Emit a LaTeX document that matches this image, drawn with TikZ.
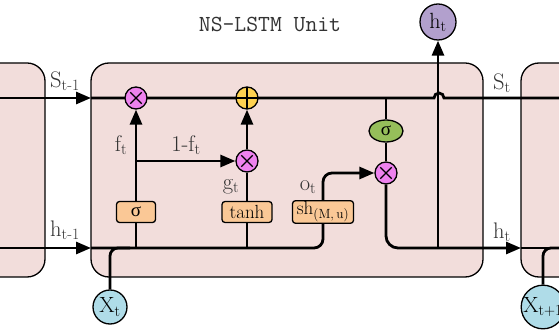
\documentclass[tikz,border=0pt]{standalone}
\usepackage{fontspec}
\newfontfamily\greekfont{Liberation Serif}
\usepackage{tikz}
\usetikzlibrary{positioning,arrows.meta,shapes.geometric}
\definecolor{CellPink}{RGB}{242,221,219}
\definecolor{GateOrange}{RGB}{250,200,150}
\definecolor{MulViolet}{RGB}{238,130,238}
\definecolor{AddYellow}{RGB}{255,210,80}
\definecolor{SigGreen}{RGB}{150,190,90}
\definecolor{OutPurple}{RGB}{178,160,205}
\definecolor{InBlue}{RGB}{175,220,232}
\definecolor{Ink}{RGB}{50,50,50}
\pgfdeclarelayer{background}
\pgfsetlayers{background,main}

\begin{document}
\begin{tikzpicture}[x=1pt,y=1pt,
    cell/.style={draw,fill=CellPink,line width=1.3pt,rounded corners=18pt},
    gate/.style={rectangle,draw,fill=GateOrange,line width=1.3pt,rounded corners=3pt,minimum height=21pt,inner sep=1pt,font=\fontsize{19}{20}\selectfont},
    mul/.style={circle,draw,fill=MulViolet,line width=1.3pt,minimum size=22pt,inner sep=0pt,
        path picture={\draw[line width=1.3pt] ([shift={(45:8pt)}]path picture bounding box.center) -- ([shift={(225:8pt)}]path picture bounding box.center);
                      \draw[line width=1.3pt] ([shift={(135:8pt)}]path picture bounding box.center) -- ([shift={(315:8pt)}]path picture bounding box.center);}},
    add/.style={circle,draw,fill=AddYellow,line width=1.3pt,minimum size=22pt,inner sep=0pt,
        path picture={\draw[line width=1.3pt] ([shift={(0:11pt)}]path picture bounding box.center) -- ([shift={(180:11pt)}]path picture bounding box.center);
                      \draw[line width=1.3pt] ([shift={(90:11pt)}]path picture bounding box.center) -- ([shift={(270:11pt)}]path picture bounding box.center);}},
    terminal/.style={circle,draw,line width=1.3pt,inner sep=0pt,font=\fontsize{22}{24}\selectfont},
    flow/.style={line width=2.8pt},
    arrow/.style={flow,-{Triangle[length=15pt,width=12pt]}},
    lbl/.style={font=\fontsize{22.5}{24}\selectfont,text=Ink}
]
\useasboundingbox (0,0) rectangle (559,329);
\clip (0,0) rectangle (559,329);

% Title
\node[font=\ttfamily\fontsize{23}{24}\selectfont,text=Ink] (title) at (270,305) {NS-LSTM Unit};

% Lane coordinates
\coordinate (sleft) at (0,231);
\coordinate (sin) at (91,231);
\coordinate (hop) at (434,231);
\coordinate (sright) at (559,231);
\coordinate (hleft) at (0,81);
\coordinate (hin) at (91,81);
\coordinate (xjoin) at (130,81);
\coordinate (hnext) at (521,81);
\coordinate (hright) at (559,81);

% Operations
\node[mul] (mul-f) at (136,231) {};
\node[add] (add-s) at (247,231) {};
\node[mul] (mul-g) at (247,168) {};
\node[mul] (mul-o) at (386,156) {};

% Gates
\node[gate,minimum width=39pt] (gate-f) at (136,117) {\greekfont σ};
\node[gate,minimum width=50pt] (gate-g) at (247,117) {tanh};
\node[gate,minimum width=61pt] (gate-o) at (323,117) {sh\textsubscript{(M,\,u)}};
\node[ellipse,draw,fill=SigGreen,line width=1.3pt,minimum width=34pt,minimum height=22pt,inner sep=0pt,font=\fontsize{19}{20}\selectfont] (sig-s) at (386,198) {\greekfont σ};

% Inputs and output
\node[terminal,fill=OutPurple,minimum size=36pt] (h-out) at (438,307) {h\textsubscript{t}};
\node[terminal,fill=InBlue,minimum size=34pt] (x-in) at (110,22) {X\textsubscript{t}};
\node[terminal,fill=InBlue,minimum size=34pt] (x-next) at (543,22) {X\textsubscript{t+1}};

% Labels
\node[lbl] at (65,248) {S\textsubscript{t-1}};
\node[lbl] at (65,99) {h\textsubscript{t-1}};
\node[lbl] at (502,246) {S\textsubscript{t}};
\node[lbl] at (502,97) {h\textsubscript{t}};
\node[lbl] at (121,184) {f\textsubscript{t}};
\node[lbl] at (186,184) {1-f\textsubscript{t}};
\node[lbl] at (231,142) {g\textsubscript{t}};
\node[lbl] at (308,142) {o\textsubscript{t}};

\begin{pgfonlayer}{background}
% Cells
\draw[cell] (-40,52) rectangle (45,266);
\draw[cell] (91,52) rectangle (483,266);
\draw[cell] (521,52) rectangle (620,266);

% Cell state lane
\draw[arrow] (sleft) -- (sin);
\draw[flow] (sin) -- (hop) arc[start angle=180,end angle=0,radius=5pt] -- (sright);

% Forget and input gates
\draw[arrow] (mul-f |- hin) -- (mul-f);
\draw[arrow] (mul-f |- mul-g) -- (mul-g);
\draw[flow] (mul-g |- hin) -- (mul-g);
\draw[arrow] (mul-g) -- (add-s);

% Hidden lane and output gate
\draw[arrow] (hleft) -- (hin);
\draw[arrow,rounded corners=9pt] (hin) -- (gate-o |- hin) -- (gate-o |- mul-o) -- (mul-o);
\draw[flow] (sig-s |- sin) -- (sig-s) -- (mul-o);
\draw[arrow,rounded corners=12pt] (mul-o) |- (hnext);
\draw[flow] (hnext) -- (hright);
\draw[arrow] (h-out |- hin) -- (h-out);

% Inputs
\draw[flow,rounded corners=8pt] (x-in) |- (xjoin);
\draw[flow,rounded corners=8pt] (x-next) |- (hright);
\end{pgfonlayer}

\end{tikzpicture}
\end{document}
